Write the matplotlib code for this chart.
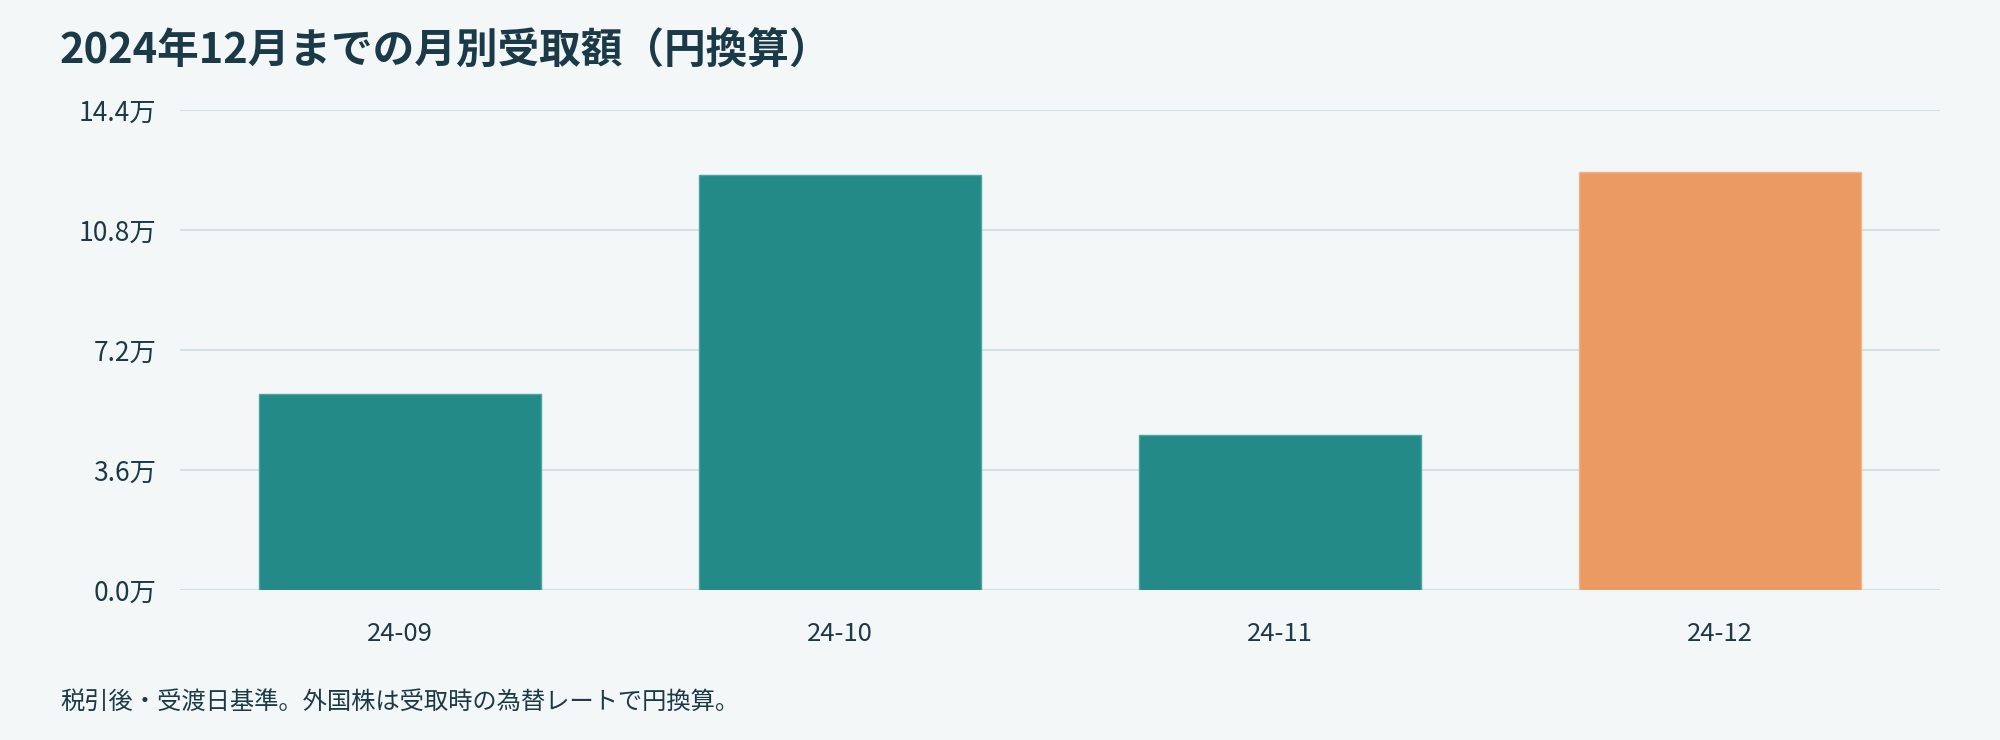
import numpy as np
import matplotlib
matplotlib.use("Agg")
from matplotlib import pyplot as plt
from matplotlib.ticker import FuncFormatter

plt.rcParams['font.family'] = ['Noto Sans CJK JP', 'DejaVu Sans']

# data (yen)
months = ['24-09', '24-10', '24-11', '24-12']
amounts = [58900, 124600, 46500, 125300]
bar_colors = ['#238A88', '#238A88', '#238A88', '#EA9A62']
edge_colors = ['#4FA3A1', '#4FA3A1', '#4FA3A1', '#F0B48A']
yticks = [0, 36000, 72000, 108000, 144000]

title = '2024年12月までの月別受取額（円換算）'
note = '税引後・受渡日基準。外国株は受取時の為替レートで円換算。'

bg = '#F3F7F8'
grid_c = '#D5E1E5'
text_c = '#1B3A47'

fig = plt.figure(figsize=(20, 7.4), dpi=100, facecolor=bg)
ax = fig.add_axes([0.09, 1 - 590 / 740, 0.88, 480 / 740])
ax.set_facecolor(bg)

x = np.arange(len(months))
ax.bar(x, amounts, width=0.64, color=bar_colors, edgecolor=edge_colors,
       linewidth=1, zorder=3)

ax.set_xlim(-0.5, len(months) - 0.5)
ax.set_ylim(0, 144000)
ax.set_yticks(yticks)
ax.yaxis.set_major_formatter(FuncFormatter(lambda v, p: f"{v / 10000:.1f}万"))
ax.set_xticks(x)
ax.set_xticklabels(months)

ax.grid(axis='y', color=grid_c, linewidth=1.5, zorder=0)
ax.grid(axis='x', visible=False)
for s in ax.spines.values():
    s.set_visible(False)
ax.tick_params(axis='y', length=0, pad=17, labelsize=19, labelcolor=text_c)
ax.tick_params(axis='x', length=0, pad=22, labelsize=18.5, labelcolor=text_c)

fig.text(0.03, 1 - 51 / 740, title, fontsize=30, fontweight='bold',
         color=text_c, va='center', ha='left')
fig.text(0.03, 1 - 702 / 740, note, fontsize=17.5, color=text_c,
         va='center', ha='left')

fig.savefig('out.png', dpi=100, facecolor=bg)
